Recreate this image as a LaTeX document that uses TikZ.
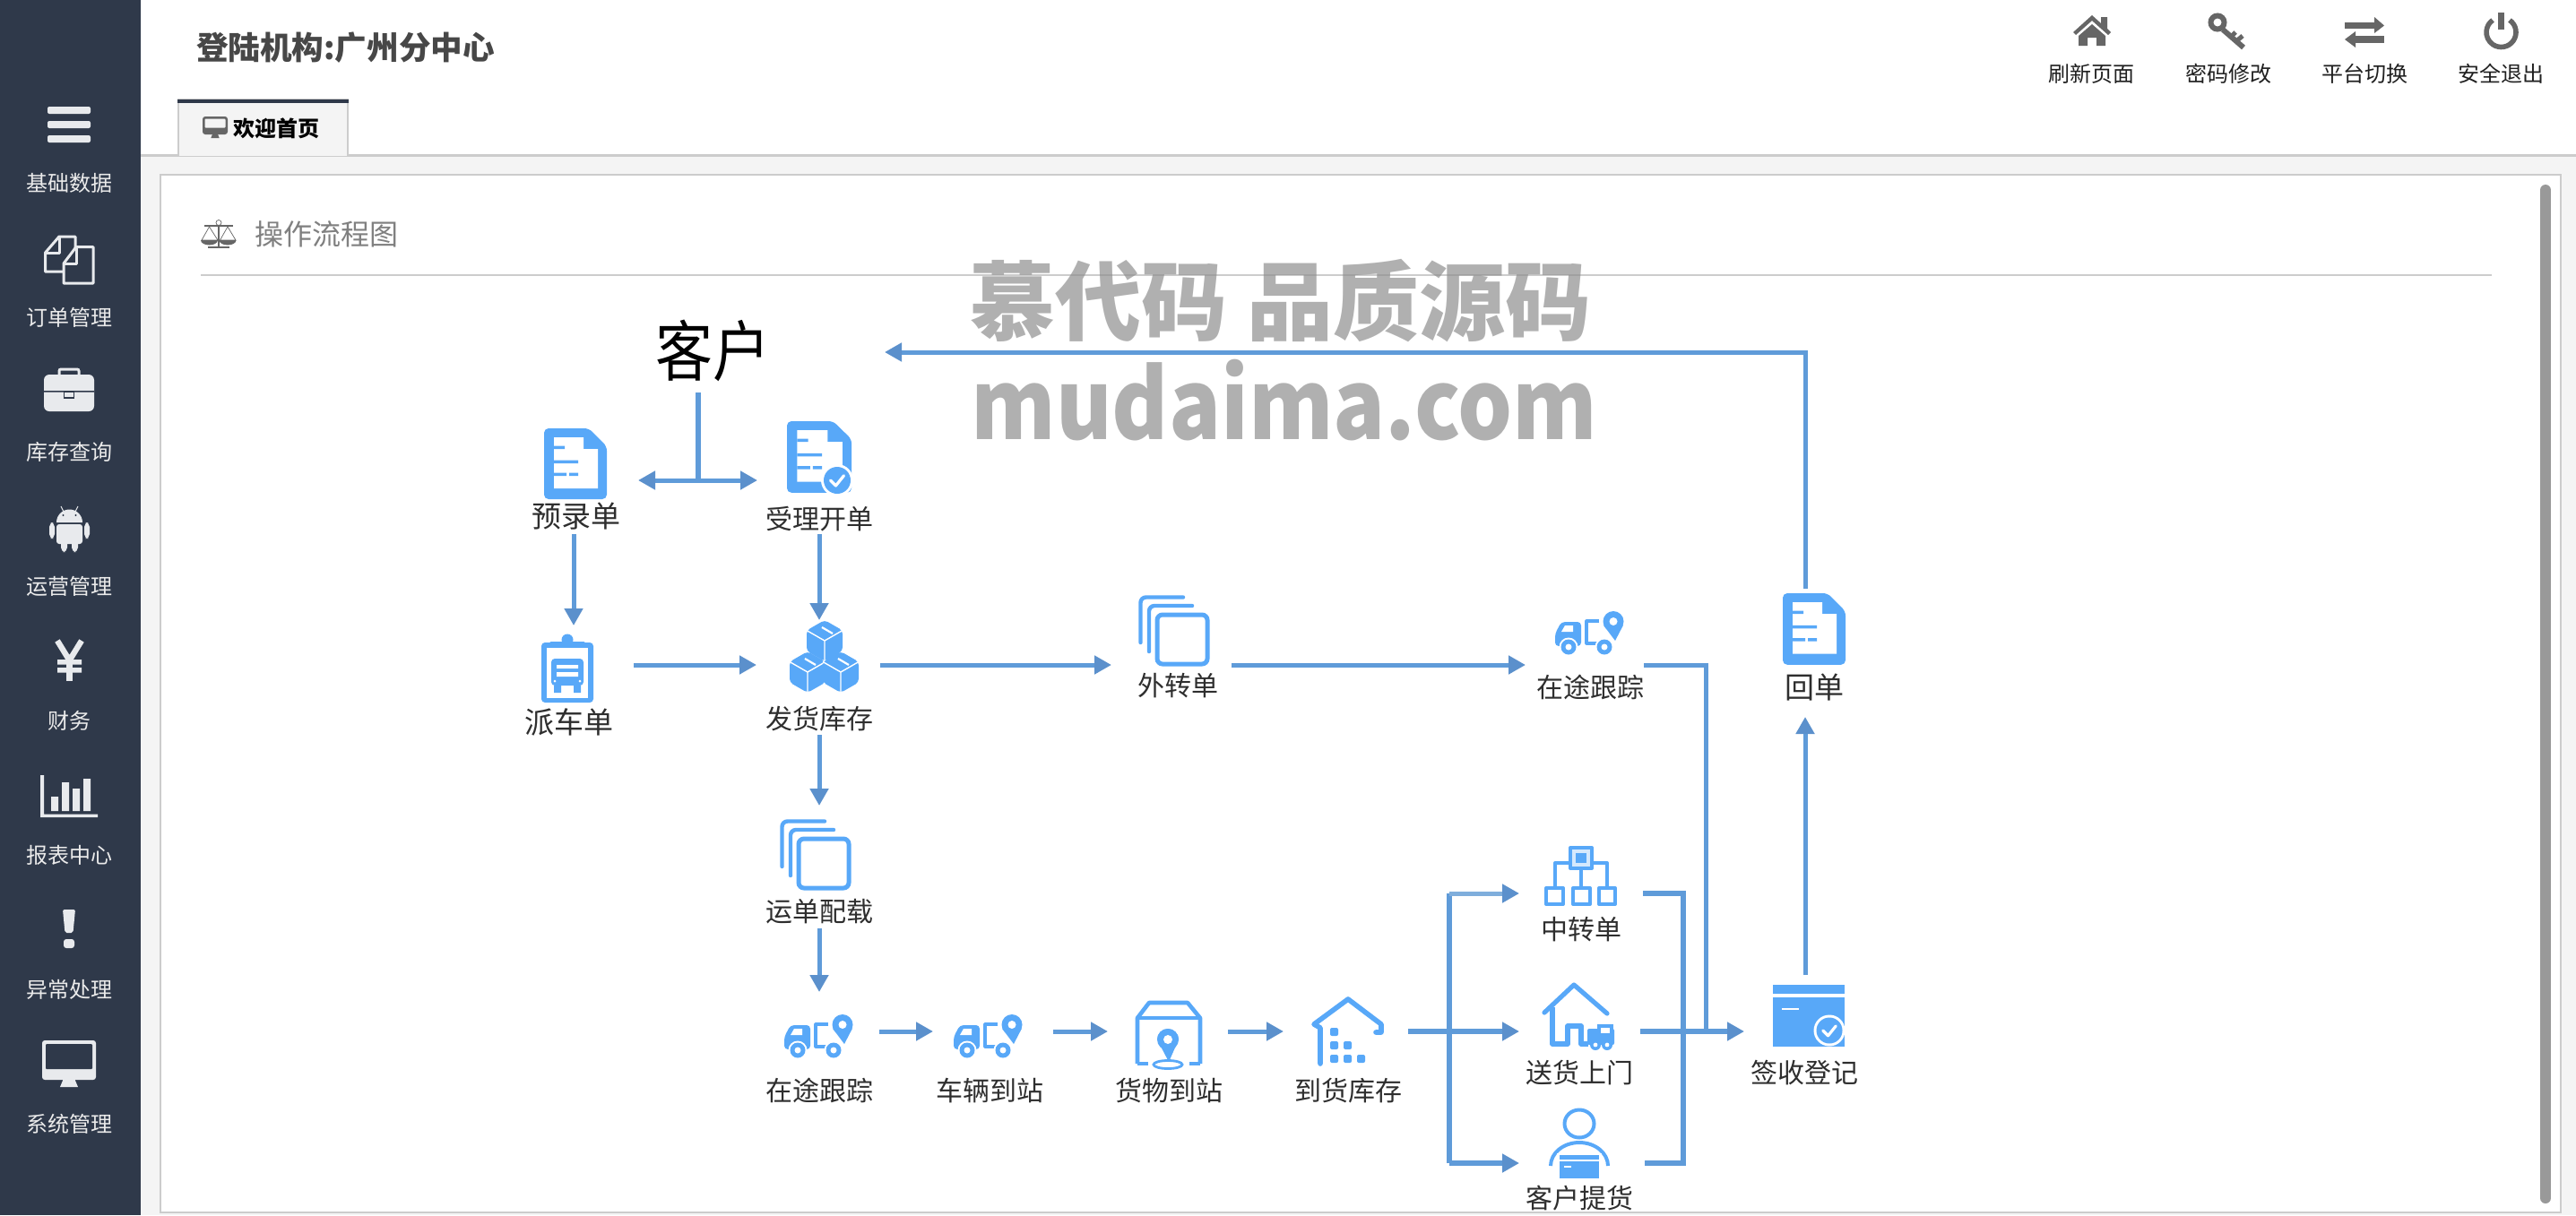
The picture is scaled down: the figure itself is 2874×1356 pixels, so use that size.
\documentclass[tikz,border=0pt]{standalone}
\usepackage{fontspec}
\setmainfont{Noto Sans CJK SC}
\newfontfamily\wmfont{Noto Sans CJK SC}
\usetikzlibrary{arrows.meta}
\definecolor{sidebg}{HTML}{2F394A}
\definecolor{sidefg}{HTML}{E8EAED}
\definecolor{mainbg}{HTML}{F4F4F4}
\definecolor{rulegray}{HTML}{CCCCCC}
\definecolor{iconblue}{HTML}{58A8F8}
\definecolor{linkblue}{HTML}{5F9BD9}
\definecolor{headblue}{HTML}{5B90CC}
\definecolor{toplink}{HTML}{7FAEDC}
\definecolor{topicon}{HTML}{666666}
\tikzset{
  fnt/.style={font=\fontsize{#1}{#1}\selectfont},
  every node/.style={inner sep=0pt,outer sep=0pt},
  lbl/.style={fnt=15pt,text=black!82},
  lblbig/.style={fnt=16.5pt,text=black!82},
  sidelbl/.style={fnt=12pt,text=white!92!black},
  toplbl/.style={fnt=12pt,text=black!88},
  conn/.style={draw=linkblue,line width=2.5pt,line cap=butt,-{Triangle[length=9.5pt,width=10pt,fill=headblue,color=headblue]}},
  connplain/.style={draw=linkblue,line width=2.5pt},
  iconline/.style={draw=iconblue,line width=2pt,line join=round},
}
\newcommand{\DocIcon}[4]{\begin{scope}[shift={(#1,#2)},xscale=#3,yscale=#4]
  \fill[iconblue,rounded corners=2.5pt] (0,0)--(50,0)--(70,20)--(70,79)--(0,79)--cycle;
  \fill[white] (11,10)--(44,10)--(44,23)--(60,23)--(60,67)--(11,67)--cycle;
  \fill[iconblue] (11,19.5) rectangle (23,23) (11,35.5) rectangle (38,39) (11,49.5) rectangle (25,53) (28,49.5) rectangle (38,53);
\end{scope}}
\newcommand{\CheckBadge}[3]{\fill[white] (#1,#2) circle[radius=#3+3];
  \fill[iconblue] (#1,#2) circle[radius=#3];
  \draw[white,line width=1.6pt,line cap=round,line join=round] (#1-.5*#3,#2) -- (#1-.1*#3,#2+.4*#3) -- (#1+.5*#3,#2-.35*#3);}
\newcommand{\StackIcon}[2]{\begin{scope}[shift={(#1,#2)}]
  \draw[iconblue,line width=2.2pt,rounded corners=3pt,line cap=round] (2.5,53)--(2.5,2.5)--(50,2.5);
  \draw[iconblue,line width=2.2pt,rounded corners=3pt,line cap=round] (12,63)--(12,12)--(60,12);
  \draw[iconblue,fill=white,line width=2.5pt,rounded corners=3pt] (21,22) rectangle (77,77);
\end{scope}}
\newcommand{\TruckIcon}[2]{\begin{scope}[shift={(#1,#2)}]
  \fill[iconblue,rounded corners=2pt] (0,38)--(0,24)--(7,11)--(29,11)--(29,38)--cycle;
  \fill[white] (11,15)--(20,15)--(20,22)--(7,22)--cycle;
  \draw[iconblue,line width=1.6pt,line join=round] (49,10)--(35,10)--(35,35)--(47,35);
  \fill[white] (15,39) circle[radius=10.5];
  \fill[iconblue] (15,39) circle[radius=8.5];
  \fill[white] (15,39) circle[radius=3.5];
  \fill[white] (55,39) circle[radius=10.5];
  \fill[iconblue] (55,39) circle[radius=8.5];
  \fill[white] (55,39) circle[radius=3.5];
  \fill[iconblue] (54.2,15) -- (67,32) -- (75.8,15) -- cycle;
  \fill[iconblue] (65,10.5) circle[radius=11.5];
  \fill[white] (65,10.5) circle[radius=4.5];
\end{scope}}
\newcommand{\CubeIcon}[2]{\begin{scope}[shift={(#1,#2)}]
  \fill[iconblue,rounded corners=2pt] (0,-23)--(20,-11.5)--(20,11.5)--(0,23)--(-20,11.5)--(-20,-11.5)--cycle;
  \draw[white,line width=.7pt] (-20,-11.5)--(0,0)--(20,-11.5) (0,0)--(0,23);
  \draw[white,line width=1.1pt] (-3,-15)--(9,-8);
\end{scope}}
\newcommand{\MonitorIcon}[8]{% x0 y0 x1 y1 border-bottom stand-y colour inner
  \fill[#7,rounded corners=1.5pt] (#1,#2) rectangle (#3,#4);
  \fill[#8,rounded corners=.5pt] (#1+#5,#2+#5) rectangle (#3-#5,#4-2*#5-#5);
  \fill[#7] ({(#1+#3)/2-(#3-#1)/9},#4) -- ({(#1+#3)/2+(#3-#1)/9},#4) -- ({(#1+#3)/2+(#3-#1)/6},#6) -- ({(#1+#3)/2-(#3-#1)/6},#6) -- cycle;}
\begin{document}
\begin{tikzpicture}[x=0.5pt,y=-0.5pt]
\useasboundingbox (0,0) rectangle (2874,1356);
% page
\fill[white] (0,0) rectangle (2874,1356);
\fill[mainbg] (157,173) rectangle (2874,1356);
\draw[rulegray,line width=1.2pt] (157,173.5) -- (2874,173.5);
\fill[white] (179,195) rectangle (2857,1353);
\draw[rulegray,line width=1pt] (179,1353) -- (179,195) -- (2857,195) -- (2857,1353) -- cycle;
\fill[sidebg] (0,0) rectangle (157,1356);
\draw[black!40,line width=6pt,line cap=round] (2840,212) -- (2840,1337);
% tab
\fill[mainbg] (199,111) rectangle (388,174);
\draw[rulegray,line width=1pt] (199,174) -- (199,111) -- (388,111) -- (388,174);
\fill[sidebg] (198,111) rectangle (389,115);
\MonitorIcon{226}{130}{254}{150}{2.5}{154}{topicon}{mainbg}
\node[font=\fontsize{12pt}{12pt}\selectfont\bfseries,text=black] (tabtxt) at (308,143) {欢迎首页};
% header
\node[font=\fontsize{17.8pt}{18pt}\selectfont\bfseries,text=black!72,anchor=west] (title) at (219,53) {登陆机构:广州分中心};
% top-right tools
\node[toplbl] (t1) at (2333,82) {刷新页面};
\node[toplbl] (t2) at (2486,82) {密码修改};
\node[toplbl] (t3) at (2638,82) {平台切换};
\node[toplbl] (t4) at (2790,82) {安全退出};
% home
\fill[topicon] (2334,17)--(2344,26)--(2344,19)--(2351,19)--(2351,32)--(2355,36)--(2352,39)--(2334,23)--(2316,39)--(2313,36)--cycle;
\fill[topicon] (2334,27)--(2349,40)--(2349,51)--(2339,51)--(2339,42)--(2329,42)--(2329,51)--(2319,51)--(2319,40)--cycle;
% key
\draw[topicon,line width=3pt] (2474,25) circle[radius=7.5];
\draw[topicon,line width=3pt] (2480,33) -- (2503,53);
\draw[topicon,line width=2.5pt] (2495,46) -- (2502,40);
\draw[topicon,line width=2.5pt] (2489,41) -- (2494,36);
% exchange
\fill[topicon] (2616,25) rectangle (2650,32);
\fill[topicon] (2649,19)--(2660,28.5)--(2649,37)--cycle;
\fill[topicon] (2628,40) rectangle (2660,48);
\fill[topicon] (2628,35)--(2616,44)--(2628,53)--cycle;
% power
\draw[topicon,line width=2.8pt] (2790.5,36) ++(-55:16.5) arc[start angle=-55,end angle=235,radius=16.5];
\draw[topicon,line width=3.4pt] (2790.5,14) -- (2790.5,33);
% side labels
\node[sidelbl] (s1) at (77,204) {基础数据};
\node[sidelbl] (s2) at (77,354) {订单管理};
\node[sidelbl] (s3) at (77,504) {库存查询};
\node[sidelbl] (s4) at (77,654) {运营管理};
\node[sidelbl] (s5) at (77,804) {财务};
\node[sidelbl] (s6) at (77,954) {报表中心};
\node[sidelbl] (s7) at (77,1104) {异常处理};
\node[sidelbl] (s8) at (77,1254) {系统管理};
% hamburger
\fill[sidefg,rounded corners=1pt] (53,119) rectangle (101,127);
\fill[sidefg,rounded corners=1pt] (53,135) rectangle (101,143);
\fill[sidefg,rounded corners=1pt] (53,151) rectangle (101,159);
% files
\begin{scope}[draw=sidefg,line width=1.5pt,line join=round]
\draw (70,303)--(50.5,303)--(50.5,282)--(66,264)--(84,264)--(84,278);
\draw (50.5,282)--(66,282)--(66,264);
\draw[fill=sidebg] (71,294)--(85,275.5)--(104,275.5)--(104,316)--(71,316)--cycle;
\draw (71,294)--(85,294)--(85,275.5);
\end{scope}
% briefcase
\fill[sidefg,rounded corners=3pt] (49,418) rectangle (105,459);
\draw[sidefg,line width=1.5pt,rounded corners=1pt] (66,418)--(66,412)--(88,412)--(88,418);
\fill[sidebg] (49,436) rectangle (71,437.5) (83,436) rectangle (105,437.5);
\draw[sidebg,line width=.6pt] (71.5,437) rectangle (82.5,444);
% android
\fill[sidefg] (63,583) arc[start angle=180,end angle=360,radius=14.5] -- cycle;
\fill[sidefg,rounded corners=1.5pt] (63,585) rectangle (92,607);
\fill[sidefg,rounded corners=2.5pt] (55,583) rectangle (61,601) (94,583) rectangle (100,601);
\fill[sidefg,rounded corners=2.5pt] (68,600) rectangle (75,616) (80,600) rectangle (87,616);
\draw[sidefg,line width=.5pt] (71,571)--(68,565) (84,571)--(87,565);
\fill[sidebg] (70.5,575) circle[radius=1.2] (84.5,575) circle[radius=1.2];
% yen
\draw[sidefg,line width=3.2pt] (64,715)--(77.5,737)--(91,715);
\draw[sidefg,line width=3.4pt] (77.5,736)--(77.5,760);
\fill[sidefg] (64,736) rectangle (91,741.5) (64,745) rectangle (91,750.5);
% chart
\fill[sidefg] (45,865) rectangle (49,912) (45,908.5) rectangle (109,912);
\fill[sidefg] (57,889) rectangle (65,905) (69,873) rectangle (77,905) (81,880) rectangle (89,905) (93,869) rectangle (101,905);
% exclamation
\fill[sidefg,rounded corners=1pt] (70,1015)--(84,1015)--(81.5,1041)--(72.5,1041)--cycle;
\fill[sidefg,rounded corners=1.5pt] (71,1048) rectangle (83,1058);
% monitor
\MonitorIcon{47}{1161}{107}{1205}{4}{1213}{sidefg}{sidebg}
% panel heading
\node[fnt=16pt,text=black!50,anchor=west] (head) at (284,261) {操作流程图};
\draw[rulegray,line width=1pt] (224,307) -- (2780,307);
% scales icon
\begin{scope}[draw=topicon,line width=.35pt]
\draw[line width=.8pt] (244,251)--(244,276) (228,252)--(260,252);
\draw[line width=1pt] (232,276)--(256,276);
\draw (244,248.5) circle[radius=3];
\draw (233.5,253)--(225,268)--(243,268)--cycle;
\draw (254,253)--(245.5,268)--(263,268)--cycle;
\fill[topicon] (224,268) arc[start angle=180,end angle=0,x radius=9.5,y radius=5.5] -- cycle;
\fill[topicon] (244.5,268) arc[start angle=180,end angle=0,x radius=9.5,y radius=5.5] -- cycle;
\end{scope}
% === flow nodes ===
\node[text=black] (kehu) at (795,391) {\fontsize{32pt}{32pt}\selectfont\scalebox{1}[1.15]{客户}};
\node[lblbig] (yulu) at (643,576) {预录单};
\node[lbl] (shouli) at (914,579) {受理开单};
\node[lblbig] (paiche) at (635,806) {派车单};
\node[lbl] (fahuo) at (914,802) {发货库存};
\node[lbl] (waizhuan) at (1314,765) {外转单};
\node[lbl] (zaitu) at (1774,767) {在途跟踪};
\node[lblbig] (huidan) at (2024,767) {回单};
\node[lbl] (yundan) at (914,1017) {运单配载};
\node[lbl] (zaitub) at (914,1217) {在途跟踪};
\node[lbl] (cheliang) at (1104,1217) {车辆到站};
\node[lbl] (huowu) at (1304,1217) {货物到站};
\node[lbl] (daohuo) at (1504,1217) {到货库存};
\node[lbl] (zhongzhuan) at (1764,1037) {中转单};
\node[lbl] (songhuo) at (1762,1197) {送货上门};
\node[lbl] (tihuo) at (1762,1337) {客户提货};
\node[lbl] (qianshou) at (2013,1197) {签收登记};
% icons
\DocIcon{607}{478}{1}{1}
\DocIcon{878}{470}{1.03}{1.01}
\CheckBadge{934}{536}{15}
\DocIcon{1989}{662}{1}{1.01}
% clipboard
\begin{scope}[shift={(604,708)}]
\fill[iconblue,rounded corners=2pt] (0,9) rectangle (58,76);
\fill[iconblue] (29,6) circle[radius=6.5];
\fill[iconblue,rounded corners=1pt] (9,8) rectangle (49,14);
\fill[white] (6,15) rectangle (52,71);
\fill[iconblue,rounded corners=2pt] (11,27) rectangle (47,57);
\fill[iconblue] (14,57) rectangle (22,65) (36,57) rectangle (44,65);
\fill[white] (17,34) rectangle (41,38) (17,42) rectangle (41,47);
\fill[white] (15,52) circle[radius=1.5] (43,52) circle[radius=1.5];
\end{scope}
\CubeIcon{920}{715}
\CubeIcon{901}{750}
\CubeIcon{938}{750}
\StackIcon{1270}{664}
\StackIcon{870}{914}
\TruckIcon{1735}{683}
\TruckIcon{875}{1133}
\TruckIcon{1064}{1133}
% cargo arrival
\begin{scope}[shift={(1268,1117)}]
\draw[iconline,line width=2.3pt] (1,70)--(1,19)--(14,2)--(57,2)--(71,19)--(71,70);
\draw[iconline,line width=2.3pt] (1,19)--(71,19);
\draw[iconline,line width=2.3pt] (1,70)--(13,70) (59,70)--(71,70);
\fill[iconblue] (23,43) arc[start angle=180,end angle=360,radius=12] -- (36,68) -- cycle;
\fill[iconblue] (35,43) circle[radius=12];
\fill[white] (35,43) circle[radius=5];
\draw[iconblue,line width=1.4pt] (35,71) ellipse[x radius=16,y radius=4.5];
\end{scope}
% arrival stock
\begin{scope}[shift={(1464,1113)}]
\draw[iconline,line width=2.8pt,line cap=round] (9,74)--(9,34)--(2,30)--(40,2)--(77,30)--(77,39)--(71,39);
\fill[iconblue,rounded corners=1pt] (20,34) rectangle (29,43) (20,49) rectangle (29,58) (20,64) rectangle (29,73);
\fill[iconblue,rounded corners=1pt] (35,49) rectangle (44,58) (35,64) rectangle (44,73);
\fill[iconblue,rounded corners=1pt] (50,64) rectangle (59,73);
\end{scope}
% transfer tree
\begin{scope}[shift={(1724,945)}]
\draw[iconline] (11,46)--(11,18)--(69,18)--(69,46) (40,24)--(40,46);
\draw[iconline,fill=iconblue!25] (28,1) rectangle (52,24);
\fill[iconblue] (34,7) rectangle (46,18);
\draw[iconline,fill=white] (1,46) rectangle (20,64);
\draw[iconline,fill=white] (31,46) rectangle (50,64);
\draw[iconline,fill=white] (60,46) rectangle (78,64);
\end{scope}
% delivery
\begin{scope}[shift={(1722,1098)}]
\draw[iconline,line width=2.6pt,line cap=round] (1,32)--(34,1)--(71,33);
\draw[iconline,line width=2.6pt] (10,26)--(10,67)--(27,67)--(27,47)--(42,47)--(42,67)--(50,67);
\fill[iconblue,rounded corners=1pt] (49,50) rectangle (79,68);
\fill[iconblue] (60,45)--(78,45)--(78,52)--(60,52)--cycle;
\fill[white] (64,49) rectangle (74,55);
\fill[iconblue] (58,68) circle[radius=6] (71,68) circle[radius=6];
\fill[white] (58,68) circle[radius=2.4] (71,68) circle[radius=2.4];
\end{scope}
% pick-up
\begin{scope}[shift={(1728,1237)}]
\draw[iconline] (34,17) ellipse[x radius=16.5,y radius=15.5];
\draw[iconline] (2,64) arc[start angle=180,end angle=360,x radius=32,y radius=26];
\fill[white] (9,50) rectangle (59,79);
\fill[iconblue] (12,52) rectangle (56,78);
\fill[white] (12,56.5) rectangle (56,58.5);
\fill[white] (17,64) rectangle (25,66);
\end{scope}
% sign-off
\begin{scope}[shift={(1978,1099)}]
\fill[iconblue] (0,0) rectangle (80,10);
\fill[iconblue] (0,14) rectangle (80,69);
\fill[white] (10,25.5) rectangle (29,28);
\end{scope}
\CheckBadge{2041}{1150}{14.5}
% === connectors ===
\coordinate (kTop) at (779,438);
\coordinate (kJoin) at (779,536);
\coordinate (kL) at (712,536);
\coordinate (kR) at (845,536);
\coordinate (yDown) at (640,596);
\coordinate (pUp) at (640,698);
\coordinate (pE) at (707,742);
\coordinate (fW) at (844,742);
\coordinate (sD) at (914,596);
\coordinate (fN) at (914,692);
\coordinate (fE) at (982,742);
\coordinate (wW) at (1240,742);
\coordinate (wE) at (1374,742);
\coordinate (zW) at (1702,742);
\coordinate (zE) at (1834,742);
\coordinate (zC) at (1903,742);
\coordinate (zJ) at (1903,1151);
\coordinate (fS) at (914,820);
\coordinate (yN) at (914,899);
\coordinate (yS) at (914,1036);
\coordinate (bN) at (914,1107);
\coordinate (a1s) at (981,1151);
\coordinate (a1e) at (1041,1151);
\coordinate (a2s) at (1175,1151);
\coordinate (a2e) at (1236,1151);
\coordinate (a3s) at (1370,1151);
\coordinate (a3e) at (1432,1151);
\coordinate (dE) at (1571,1151);
\coordinate (forkT) at (1617,997);
\coordinate (forkB) at (1617,1298);
\coordinate (zzW) at (1695,997);
\coordinate (shW) at (1695,1151);
\coordinate (thW) at (1695,1298);
\coordinate (zzE) at (1833,997);
\coordinate (thE) at (1835,1298);
\coordinate (colT) at (1878,997);
\coordinate (colB) at (1878,1298);
\coordinate (shE) at (1830,1151);
\coordinate (qW) at (1946,1151);
\coordinate (qN) at (2014,1088);
\coordinate (hS) at (2014,800);
\coordinate (hN) at (2014,657);
\coordinate (hC) at (2014,393);
\coordinate (kE) at (987,393);
\draw[connplain,line width=3pt] (kTop) -- (kJoin);
\draw[conn] (kJoin) -- (kR);
\draw[conn] (kJoin) -- (kL);
\draw[conn] (yDown) -- (pUp);
\draw[conn] (pE) -- (fW);
\draw[conn] (sD) -- (fN);
\draw[conn] (fE) -- (wW);
\draw[conn] (wE) -- (zW);
\draw[connplain] (zE) -- (zC) -- (zJ);
\draw[conn] (fS) -- (yN);
\draw[conn] (yS) -- (bN);
\draw[conn] (a1s) -- (a1e);
\draw[conn] (a2s) -- (a2e);
\draw[conn] (a3s) -- (a3e);
\draw[connplain,line width=3pt] (forkT) -- (forkB);
\draw[conn,line width=3pt] (dE) -- (shW);
\draw[conn,draw=toplink,line width=2.5pt] (forkT) -- (zzW);
\draw[conn,line width=3pt] (forkB) -- (thW);
\draw[connplain,line width=3pt] (zzE) -- (colT) -- (colB) -- (thE);
\draw[conn,line width=3pt] (shE) -- (qW);
\draw[conn] (qN) -- (hS);
\draw[conn] (hN) -- (hC) -- (kE);
% watermark
\begin{scope}[opacity=.68]
\node[font=\fontsize{48pt}{48pt}\selectfont\wmfont\bfseries,text=black!45] (wm1) at (1428,336) {慕代码 品质源码};
\node[font=\wmfont\bfseries,text=black!45] (wm2) at (1433,447) {\fontsize{48pt}{48pt}\selectfont\scalebox{1}[1.12]{mudaima.com}};
\end{scope}
\end{tikzpicture}
\end{document}
